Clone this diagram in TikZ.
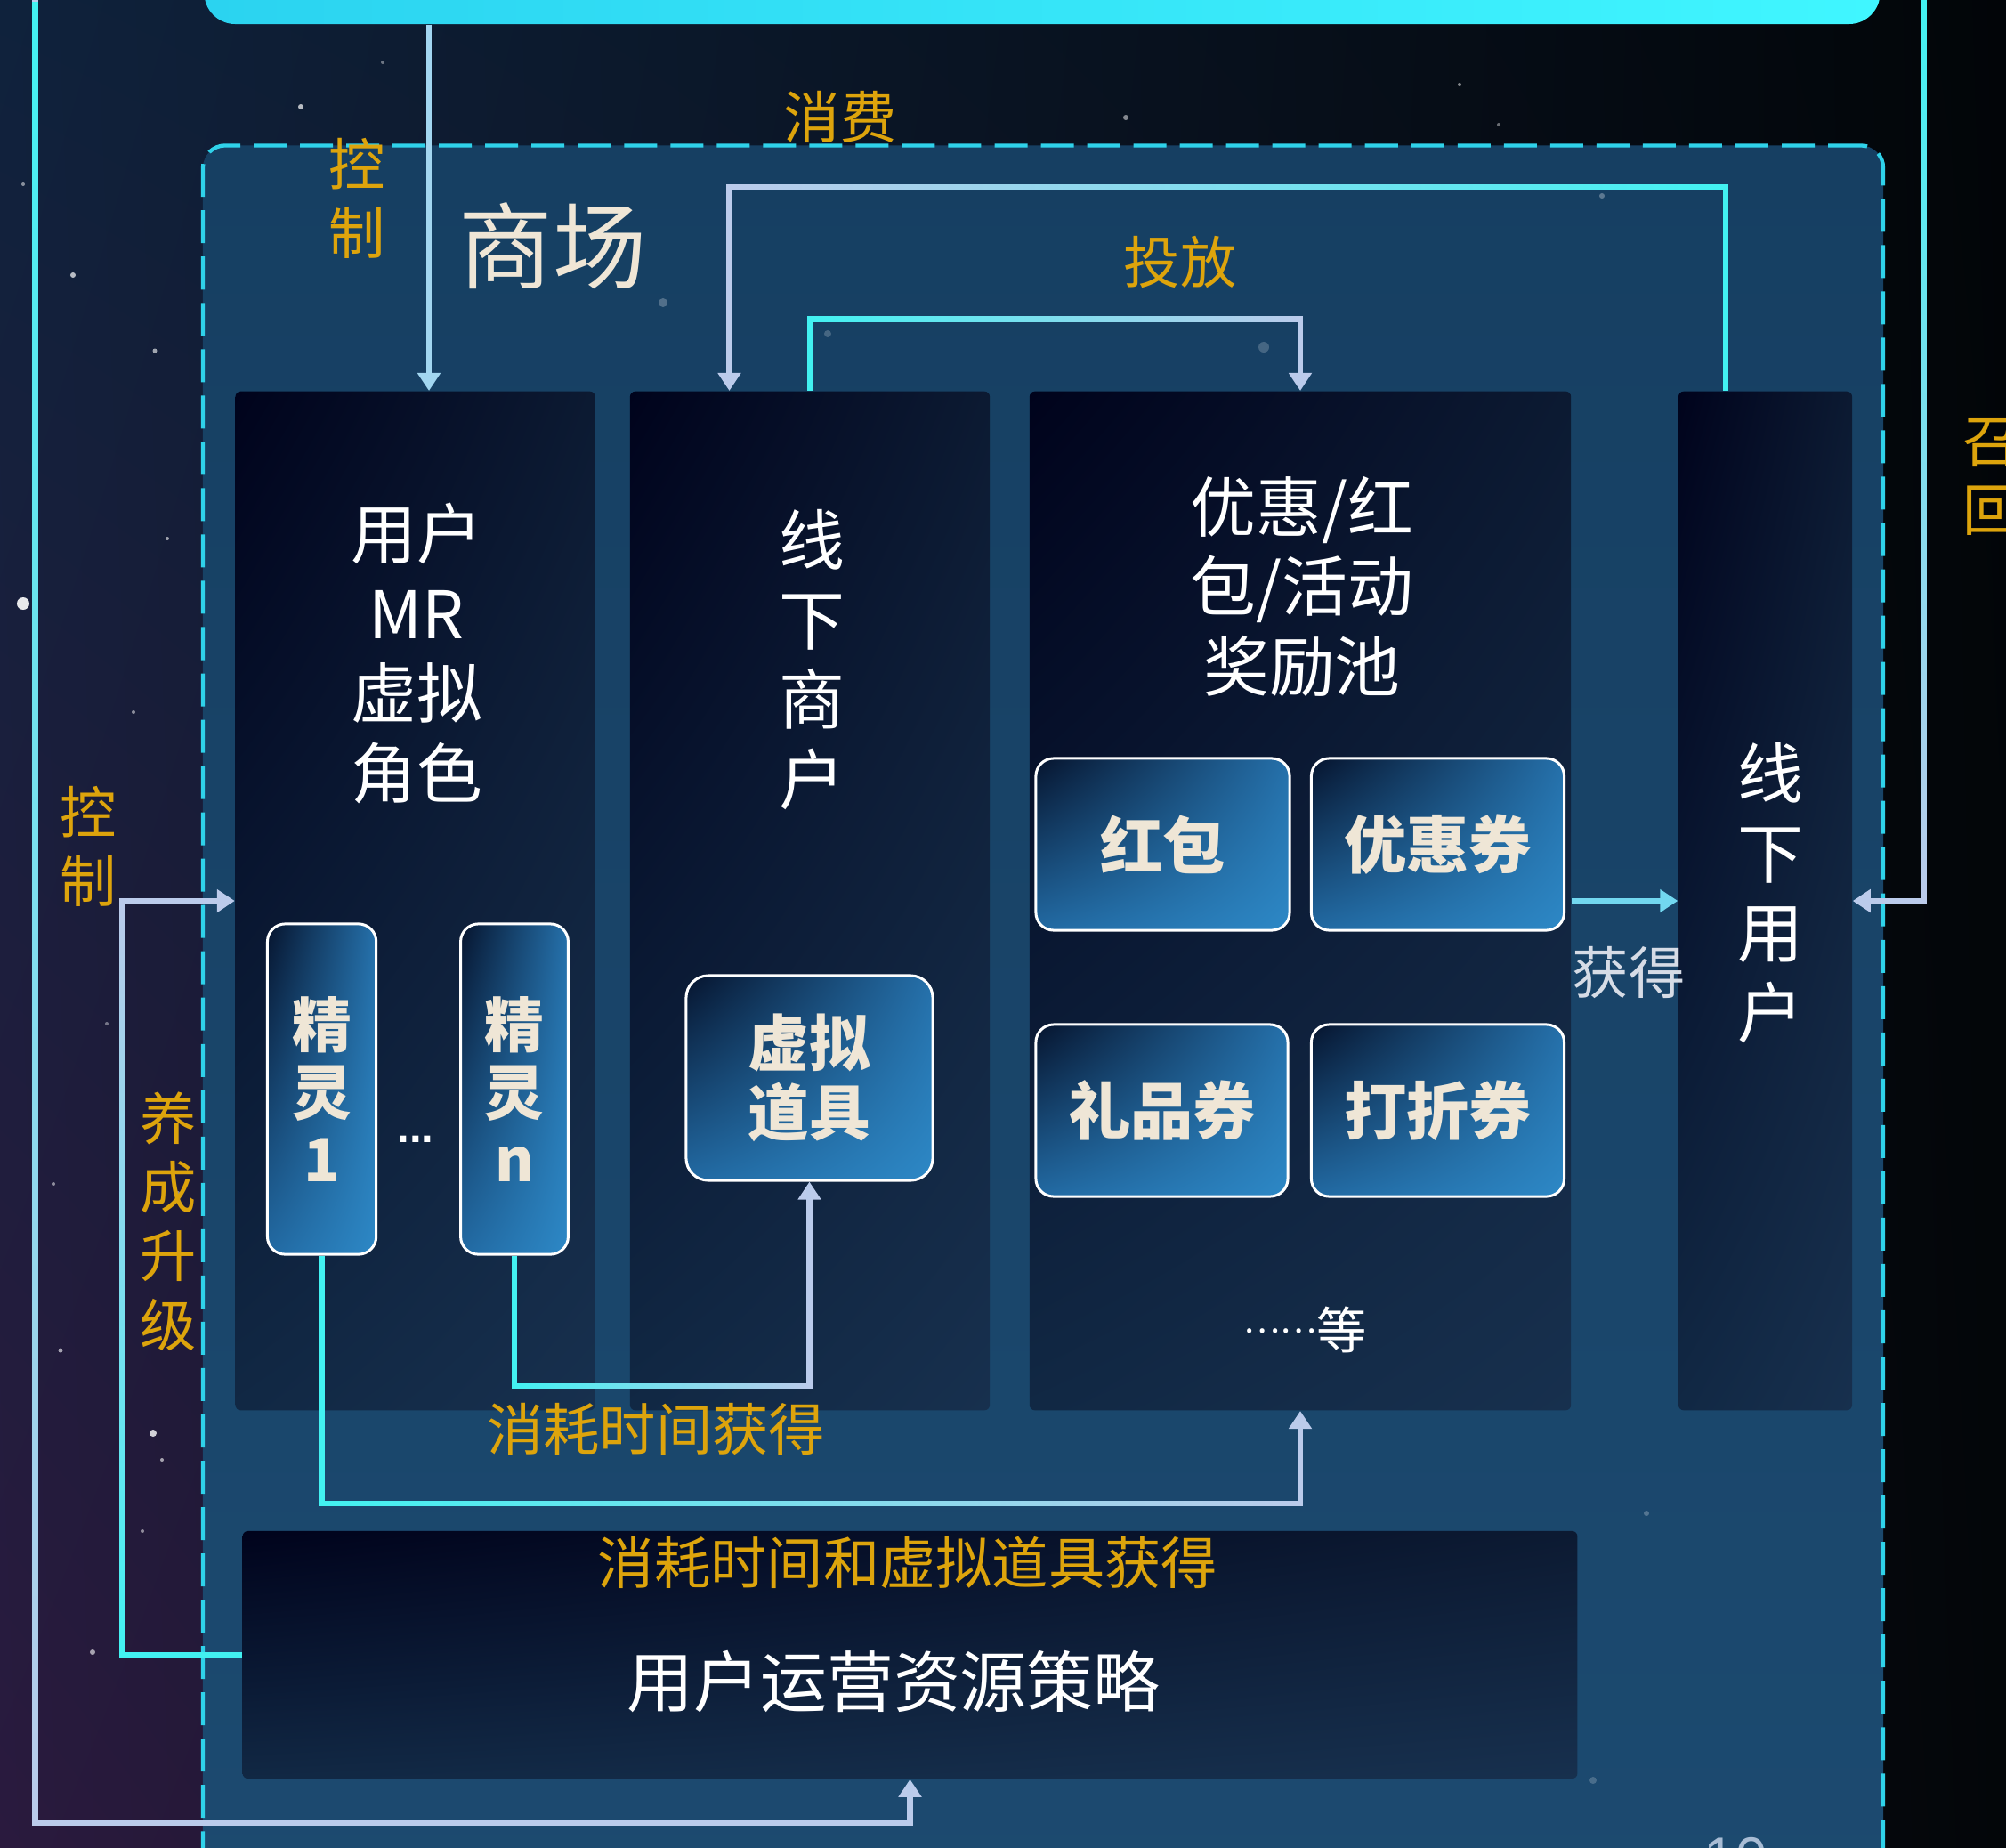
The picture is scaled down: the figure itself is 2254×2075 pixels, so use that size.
\documentclass[tikz,border=0pt]{standalone}
\usepackage{fontspec}
\newfontfamily\cjk{Noto Sans CJK SC}
\newfontfamily\latf{Liberation Sans}
\usetikzlibrary{arrows.meta,fadings,shadings}
\definecolor{cyanL}{HTML}{42F2F2}
\definecolor{lav}{HTML}{BCCBEB}
\definecolor{ctrlc}{HTML}{A2D6F0}
\definecolor{getc}{HTML}{72D8F0}
\definecolor{orng}{HTML}{DDA40C}
\definecolor{beige}{HTML}{EFE6D6}
\definecolor{mallT}{HTML}{163F62}
\definecolor{mallB}{HTML}{1C4A70}
\definecolor{dashc}{HTML}{2FD2EA}
\definecolor{bgUL}{HTML}{0F223C}
\definecolor{bgUR}{HTML}{020508}
\definecolor{bgLL}{HTML}{2A1A3E}
\definecolor{bgLR}{HTML}{030609}
\definecolor{colUL}{HTML}{00031C}
\definecolor{colUR}{HTML}{0C1A32}
\definecolor{colLL}{HTML}{112844}
\definecolor{colLR}{HTML}{17304E}
\definecolor{ibUL}{HTML}{06142E}
\definecolor{ibUR}{HTML}{2570AA}
\definecolor{ibLL}{HTML}{226AA3}
\definecolor{ibLR}{HTML}{2D88C6}
\definecolor{barL}{HTML}{2BD3F0}
\definecolor{barR}{HTML}{40F6FF}
\definecolor{getlab}{HTML}{D6DCE6}
\definecolor{pgnum}{HTML}{A8BCD4}
\tikzfading[name=fadeW, left color=transparent!0, right color=transparent!100]
\tikzfading[name=fadeE, left color=transparent!100, right color=transparent!0]
\tikzfading[name=fadeN, top color=transparent!0, bottom color=transparent!100]
\tikzfading[name=fadeS, top color=transparent!100, bottom color=transparent!0]
\tikzset{
  colbox/.style={rectangle, rounded corners=0.06cm, inner sep=0pt,
    upper left=colUL, upper right=colUR, lower left=colLL, lower right=colLR},
  ibox/.style={rectangle, rounded corners=0.2cm, draw=white, line width=0.3mm,
    upper left=ibUL, upper right=ibUR, lower left=ibLL, lower right=ibLR,
    inner sep=0pt, text=beige, align=center},
  coltext/.style={text=white, align=center, inner sep=0pt,
    font=\cjk\fontsize{21}{25.5}\selectfont},
  olab/.style={text=orng, align=center, inner sep=0pt,
    font=\cjk\fontsize{18}{22}\selectfont},
  conn/.style={line width=0.65mm},
  tipA/.style={-{Triangle[length=2mm,width=2.5mm]}},
  gradE/.style={postaction={draw, cyanL, path fading=fadeE, arrows=-}},
  gradW/.style={postaction={draw, cyanL, path fading=fadeW, arrows=-}},
  gradN/.style={postaction={draw, cyanL, path fading=fadeN, arrows=-}},
  gradS/.style={postaction={draw, cyanL, path fading=fadeS, arrows=-}},
}
\begin{document}
\begin{tikzpicture}[x=0.01cm, y=-0.01cm]
\useasboundingbox (0,0) rectangle (2254,2075);
\shade[upper left=bgUL, upper right=bgUR, lower left=bgLL, lower right=bgLR] (0,0) rectangle (2254,2075);
% stars
\foreach \sx/\sy/\sr/\so in {26/678/0.07/0.9, 82/309/0.03/0.7, 174/394/0.025/0.6, 188/605/0.02/0.6,
  26/207/0.02/0.5, 338/120/0.03/0.7, 68/1517/0.025/0.6, 172/1610/0.04/0.8, 182/1640/0.02/0.6,
  104/1856/0.03/0.6, 1265/132/0.03/0.5, 1640/95/0.02/0.5, 1684/140/0.02/0.4, 430/70/0.02/0.4,
  160/1720/0.02/0.5, 60/1330/0.02/0.5, 120/1150/0.02/0.4, 200/1340/0.02/0.5, 150/800/0.02/0.5}
  \fill[white, opacity=\so] (\sx,\sy) circle[radius=\sr cm];

% top bar
\node[rectangle, rounded corners=0.35cm, minimum width=18.82cm, minimum height=0.87cm,
  left color=barL, right color=barR, inner sep=0pt] (topbar) at (1171,-16.5) {};

% mall region
\node[rectangle, rounded corners=0.25cm, minimum width=18.87cm, minimum height=19.86cm,
  draw=dashc, line width=0.43mm, dash pattern=on 0.37cm off 0.15cm,
  top color=mallT, bottom color=mallB, inner sep=0pt] (mall) at (1172,1157) {};

% faint bokeh inside
\foreach \sx/\sy/\sr/\so in {745/340/0.05/0.25, 930/375/0.04/0.2, 1420/390/0.06/0.2, 1800/220/0.03/0.3,
  1530/650/0.03/0.25, 1850/1700/0.03/0.25, 1790/2000/0.04/0.2, 700/1870/0.03/0.2}
  \fill[white, opacity=\so] (\sx,\sy) circle[radius=\sr cm];

% column boxes
\node[colbox, minimum width=4.04cm, minimum height=11.44cm] (user) at (466.6,1012) {};
\node[colbox, minimum width=4.04cm, minimum height=11.44cm] (merchant) at (910,1012) {};
\node[colbox, minimum width=6.08cm, minimum height=11.44cm] (pool) at (1461,1012) {};
\node[colbox, minimum width=1.95cm, minimum height=11.44cm] (offuser) at (1983.5,1012) {};
\node[colbox, minimum width=14.99cm, minimum height=2.78cm] (strategy) at (1022.5,1859) {};

% inner boxes
\node[ibox, minimum width=1.222cm, minimum height=3.71cm,
  font=\cjk\bfseries\fontsize{19}{21.6}\selectfont] (sp1) at (361.6,1223.5) {精\\灵\\1};
\node[ibox, minimum width=1.208cm, minimum height=3.71cm,
  font=\cjk\bfseries\fontsize{19}{21.6}\selectfont] (spn) at (578,1223.5) {精\\灵\\n};
\node[ibox, rounded corners=0.25cm, minimum width=2.77cm, minimum height=2.30cm,
  font=\cjk\bfseries\fontsize{19.5}{22.2}\selectfont] (prop) at (909.5,1211) {虚拟\\道具};
\node[ibox, minimum width=2.85cm, minimum height=1.93cm,
  font=\cjk\bfseries\fontsize{20}{22}\selectfont] (hb) at (1306.5,948.5) {红包};
\node[ibox, minimum width=2.84cm, minimum height=1.93cm,
  font=\cjk\bfseries\fontsize{20}{22}\selectfont] (yhq) at (1615.5,948.5) {优惠券};
\node[ibox, minimum width=2.83cm, minimum height=1.93cm,
  font=\cjk\bfseries\fontsize{20}{22}\selectfont] (lpq) at (1305.5,1247.5) {礼品券};
\node[ibox, minimum width=2.84cm, minimum height=1.93cm,
  font=\cjk\bfseries\fontsize{20}{22}\selectfont] (dzq) at (1615.5,1247.5) {打折券};

% texts
\node[text=beige, inner sep=0pt, font=\cjk\fontsize{30}{32}\selectfont] (tmall) at (621,276) {商场};
\node[coltext] (tuser) at (468,734) {用户\\MR\\虚拟\\角色};
\node[coltext] (tmerch) at (912,741) {线\\下\\商\\户};
\node[coltext] (tpool) at (1463,659) {优惠/红\\包/活动\\奖励池};
\node[coltext] (toff) at (1989,1003) {线\\下\\用\\户};
\node[text=white, inner sep=0pt, font=\cjk\fontsize{21.3}{24}\selectfont] (tstrat) at (1004,1889) {用户运营资源策略};
\node[text=white, inner sep=0pt, font=\cjk\fontsize{16}{18}\selectfont] (tetc) at (1467,1494) {\raisebox{5pt}{\fontsize{11}{12}\selectfont ……}等};
\node[text=white, inner sep=0pt, anchor=base, font=\latf\bfseries\fontsize{14}{14}\selectfont] (tdots) at (467,1283) {...};

\node[olab] (lctrl1) at (401,223) {控\\制};
\node[olab] (lfee) at (944,131) {消费};
\node[olab] (lput) at (1326,294) {投放};
\node[olab] (lctrl2) at (99,951) {控\\制};
\node[olab] (lgrow) at (189,1372) {养\\成\\升\\级};
\node[olab] (lrecall) at (2237,536) {召\\回};
\node[olab] (lcost1) at (737,1605) {消耗时间获得};
\node[olab] (lcost2) at (1020,1755) {消耗时间和虚拟道具获得};
\node[text=getlab, inner sep=0pt, font=\cjk\fontsize{18}{22}\selectfont] (lget) at (1830,1092) {获得};
\node[text=pgnum, inner sep=0pt, anchor=base, font=\latf\fontsize{18}{18}\selectfont] (pgn) at (1950,2108) {10};

% helper coordinates
\coordinate (cctrl) at (482,0);
\coordinate (fee1) at (1939,210);
\coordinate (fee2) at (819.5,210);
\coordinate (put) at (0,358.5);
\coordinate (cl) at (137,0);
\coordinate (ol) at (39.5,0);
\coordinate (olb) at (39.5,2048);
\coordinate (orr) at (2162,0);
\coordinate (sn) at (0,1557);
\coordinate (s1) at (0,1689);

% connectors
\draw[conn, ctrlc, tipA] (cctrl |- topbar.south) -- (cctrl |- user.north);
\draw[conn, lav, tipA, gradE] (fee1 |- offuser.north) -- (fee1) -- (fee2) -- (fee2 |- merchant.north);
\draw[conn, lav, tipA, gradW] (merchant.north) -- (merchant.north |- put) -- (pool.north |- put) -- (pool.north);
\draw[conn, lav, tipA, gradS] (strategy.west) -- (cl |- strategy.west) -- (cl |- user.west) -- (user.west);
\draw[conn, getc, tipA] (pool.east) -- (offuser.west);
\draw[conn, lav, tipA, gradW] (spn.south) -- (spn.south |- sn) -- (prop.south |- sn) -- (prop.south);
\draw[conn, lav, tipA, gradW] (sp1.south) -- (sp1.south |- s1) -- (pool.south |- s1) -- (pool.south);
\draw[conn, lav, tipA, gradN] (ol) -- (olb) -- (olb -| strategy.south) -- (strategy.south);
\draw[conn, lav, tipA, gradN] (orr) -- (orr |- offuser.east) -- (offuser.east);
\end{tikzpicture}
\end{document}
